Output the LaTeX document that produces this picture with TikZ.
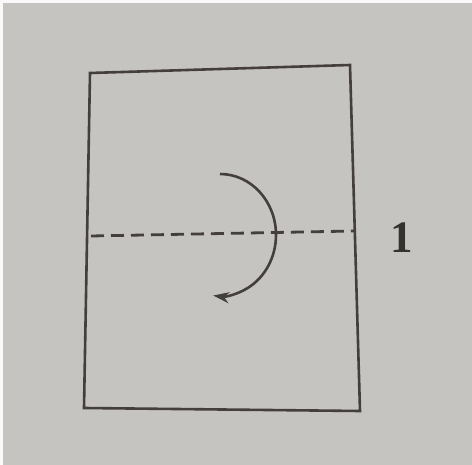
\documentclass[tikz,border=0pt]{standalone}
\usepackage{fontspec}
\setmainfont{Liberation Serif}
\usetikzlibrary{arrows.meta}
\definecolor{paper}{RGB}{198,196,192}
\definecolor{ink}{RGB}{68,62,62}
\begin{document}
\begin{tikzpicture}[x=1pt,y=-1pt,
  sheet/.style={draw=ink,line width=2.6pt,line join=miter},
  foldline/.style={draw=ink,line width=2.8pt,dash pattern=on 13pt off 7pt},
  turn/.style={draw=ink,line width=2.6pt,-{Stealth[length=16pt,width=11pt]}}]
\useasboundingbox (0,0) rectangle (472,465);
\fill[white!92!paper] (0,0) rectangle (472,465);
\fill[paper] (3,3) rectangle (472,465);
\coordinate (tl) at (90,73);
\coordinate (tr) at (350,65);
\coordinate (br) at (360,411);
\coordinate (bl) at (84,408);
\draw[sheet] (tl) -- (tr) -- (br) -- (bl) -- cycle;
\coordinate (fl) at (91,236);
\coordinate (fr) at (354,231);
\draw[foldline] (fl) -- (fr);
\coordinate (as) at (220,174);
\draw[turn] (as) arc[start angle=-90,end angle=97,x radius=56,y radius=61];
\node[text=ink!80!black,font=\bfseries\fontsize{45}{50}\selectfont] (num) at (402,238) {1};
\end{tikzpicture}
\end{document}
